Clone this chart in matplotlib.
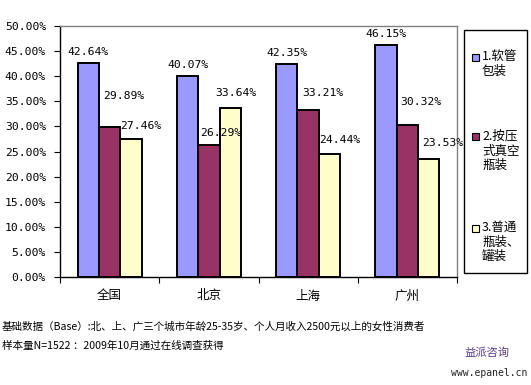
import matplotlib
matplotlib.use("Agg")
import matplotlib.pyplot as plt
from matplotlib.patches import Rectangle
from matplotlib.ticker import FuncFormatter, FixedLocator

CITIES = ["全国", "北京", "上海", "广州"]
SERIES = ["1.软管\n包装", "2.按压\n式真空\n瓶装", "3.普通\n瓶装、\n罐装"]
TUBE = [42.64, 40.07, 42.35, 46.15]
PUMP = [29.89, 26.29, 33.21, 30.32]
BOTTLE = [27.46, 33.64, 24.44, 23.53]

COLORS = ["#9999FF", "#993366", "#FFFFCC"]
# label offsets (pixels) mimicking the Excel label placement
LABEL_DX = [[0, 0, 0, 0], [14, 12, 15, 14], [10, 6, 10, 14]]
LABEL_DY = [[11, 11, 11, 11], [31, 12, 17, 23], [13, 15, 14, 16]]

W, H = 531, 385
NUM_FONT = ["DejaVu Sans Mono", "Noto Sans CJK SC"]
CJK_FONT = ["Noto Sans CJK SC", "DejaVu Sans"]

fig = plt.figure(figsize=(W / 100, H / 100), dpi=100)
ax = fig.add_axes([60 / W, 1 - 277 / H, (457 - 60) / W, (277 - 26) / H])

width = 0.215
values = [TUBE, PUMP, BOTTLE]
x = list(range(len(CITIES)))
for i, (vals, color) in enumerate(zip(values, COLORS)):
    xs = [xi + (i - 1) * width for xi in x]
    ax.bar(xs, vals, width=width, color=color, edgecolor="black", linewidth=1.4)
    for j, (xv, v) in enumerate(zip(xs, vals)):
        ax.annotate(f"{v:.2f}%", (xv, v), xytext=(LABEL_DX[i][j], LABEL_DY[i][j]),
                    textcoords="offset pixels", ha="center", va="center",
                    fontsize=8.2, family=NUM_FONT)

ax.set_xlim(-0.5, len(CITIES) - 0.5)
ax.set_ylim(0, 50)
ax.yaxis.set_major_locator(FixedLocator([i * 5 for i in range(11)]))
ax.yaxis.set_major_formatter(FuncFormatter(lambda v, p: f"{v:.2f}%"))
ax.tick_params(axis="y", length=4, width=0.8, pad=6, labelsize=8.2)
for lbl in ax.get_yticklabels():
    lbl.set_family(NUM_FONT)

ax.set_xticks(x)
ax.set_xticklabels(CITIES, family=CJK_FONT, fontsize=9)
ax.tick_params(axis="x", length=0, pad=9)
ax.set_xticks([xi - 0.5 for xi in x] + [len(CITIES) - 0.5], minor=True)
ax.tick_params(axis="x", which="minor", length=4, width=0.8)

for side in ["top", "right"]:
    ax.spines[side].set_color("#808080")
    ax.spines[side].set_linewidth(1.0)
for side in ["left", "bottom"]:
    ax.spines[side].set_color("black")
    ax.spines[side].set_linewidth(1.0)

# legend box drawn like the Excel one
fig.patches.append(Rectangle((464 / W, 1 - 273 / H), 63 / W, 243 / H,
                             transform=fig.transFigure, facecolor="white",
                             edgecolor="black", linewidth=1.0))
entry_y = [57, 137, 228]
for label, color, ey in zip(SERIES, COLORS, entry_y):
    fig.patches.append(Rectangle((472 / W, 1 - (ey + 3.5) / H), 7 / W, 7 / H,
                                 transform=fig.transFigure, facecolor=color,
                                 edgecolor="black", linewidth=0.8))
    fig.text(482 / W, 1 - (ey - 7) / H, label, ha="left", va="top",
             fontsize=9, family=CJK_FONT, linespacing=1.15)

fig.text(2 / W, 1 - 326 / H,
         "基础数据（Base）:北、上、广三个城市年龄25-35岁、个人月收入2500元以上的女性消费者",
         ha="left", va="center", fontsize=7.6, family=CJK_FONT)
fig.text(2 / W, 1 - 346 / H, "样本量N=1522 ：2009年10月通过在线调查获得",
         ha="left", va="center", fontsize=7.6, family=CJK_FONT)
fig.text(487 / W, 1 - 353 / H, "益派咨询", ha="center", va="center",
         fontsize=8.1, family=CJK_FONT, color="#5a3c8c")
fig.text(527 / W, 1 - 373 / H, "www.epanel.cn", ha="right", va="center",
         fontsize=7, family=NUM_FONT, color="#222222")

fig.savefig("out.png", dpi=100)
